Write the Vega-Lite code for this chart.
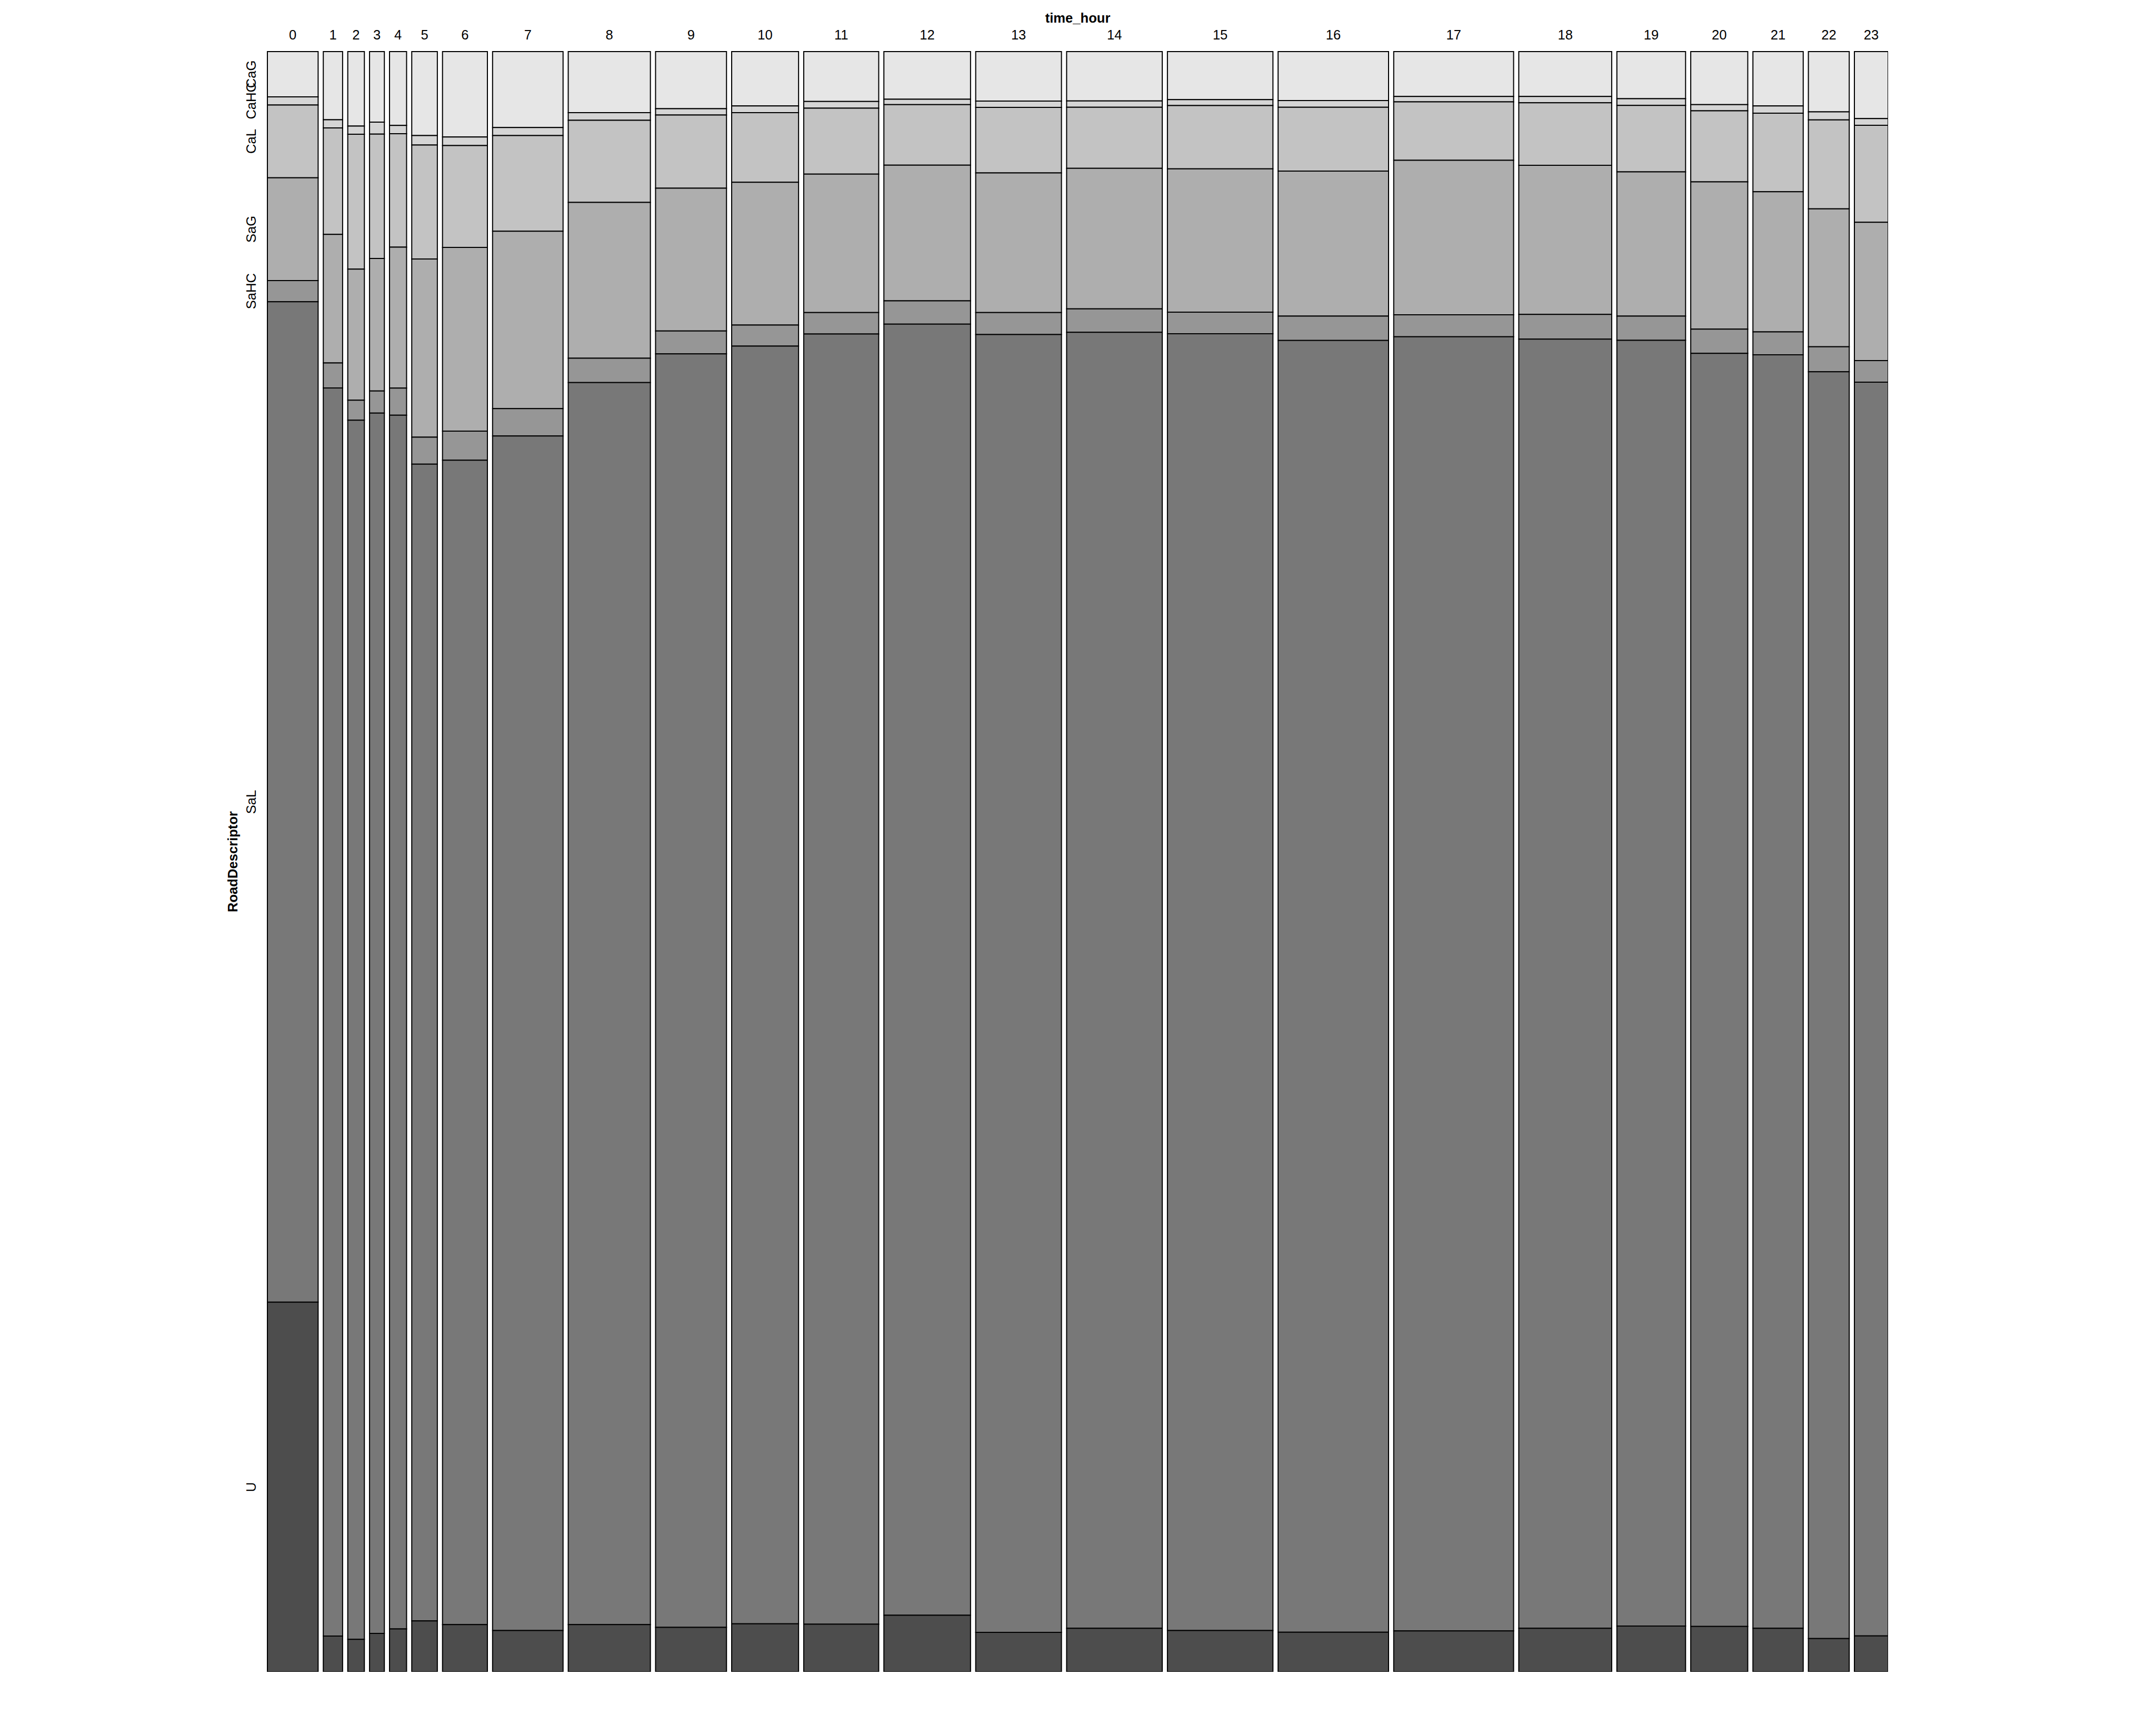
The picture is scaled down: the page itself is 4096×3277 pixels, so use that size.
{
 "$schema": "https://vega.github.io/schema/vega-lite/v6.json",
 "autosize": {"type": "none"},
 "padding": {"left": 508, "top": 98, "right": 0, "bottom": 0},
 "width": 3079,
 "height": 3078,
 "background": "white",
 "config": {"view": {"stroke": null}, "font": "Liberation Sans"},
 "data": {"values": [
  {"hour":0,"road":"CaG","n":323},{"hour":0,"road":"CaHC","n":58},{"hour":0,"road":"CaL","n":519},{"hour":0,"road":"SaG","n":733},{"hour":0,"road":"SaHC","n":151},{"hour":0,"road":"SaL","n":7135},{"hour":0,"road":"U","n":2636},
  {"hour":1,"road":"CaG","n":185},{"hour":1,"road":"CaHC","n":22},{"hour":1,"road":"CaL","n":289},{"hour":1,"road":"SaG","n":349},{"hour":1,"road":"SaHC","n":68},{"hour":1,"road":"SaL","n":3387},{"hour":1,"road":"U","n":97},
  {"hour":2,"road":"CaG","n":174},{"hour":2,"road":"CaHC","n":19},{"hour":2,"road":"CaL","n":315},{"hour":2,"road":"SaG","n":306},{"hour":2,"road":"SaHC","n":47},{"hour":2,"road":"SaL","n":2847},{"hour":2,"road":"U","n":76},
  {"hour":3,"road":"CaG","n":147},{"hour":3,"road":"CaHC","n":25},{"hour":3,"road":"CaL","n":259},{"hour":3,"road":"SaG","n":276},{"hour":3,"road":"SaHC","n":46},{"hour":3,"road":"SaL","n":2542},{"hour":3,"road":"U","n":80},
  {"hour":4,"road":"CaG","n":177},{"hour":4,"road":"CaHC","n":20},{"hour":4,"road":"CaL","n":272},{"hour":4,"road":"SaG","n":338},{"hour":4,"road":"SaHC","n":65},{"hour":4,"road":"SaL","n":2911},{"hour":4,"road":"U","n":103},
  {"hour":5,"road":"CaG","n":302},{"hour":5,"road":"CaHC","n":34},{"hour":5,"road":"CaL","n":410},{"hour":5,"road":"SaG","n":641},{"hour":5,"road":"SaHC","n":97},{"hour":5,"road":"SaL","n":4162},{"hour":5,"road":"U","n":183},
  {"hour":6,"road":"CaG","n":539},{"hour":6,"road":"CaHC","n":54},{"hour":6,"road":"CaL","n":643},{"hour":6,"road":"SaG","n":1159},{"hour":6,"road":"SaHC","n":184},{"hour":6,"road":"SaL","n":7349},{"hour":6,"road":"U","n":298},
  {"hour":7,"road":"CaG","n":752},{"hour":7,"road":"CaHC","n":80},{"hour":7,"road":"CaL","n":948},{"hour":7,"road":"SaG","n":1758},{"hour":7,"road":"SaHC","n":271},{"hour":7,"road":"SaL","n":11837},{"hour":7,"road":"U","n":409},
  {"hour":8,"road":"CaG","n":705},{"hour":8,"road":"CaHC","n":88},{"hour":8,"road":"CaL","n":949},{"hour":8,"road":"SaG","n":1800},{"hour":8,"road":"SaHC","n":280},{"hour":8,"road":"SaL","n":14347},{"hour":8,"road":"U","n":545},
  {"hour":9,"road":"CaG","n":569},{"hour":9,"road":"CaHC","n":63},{"hour":9,"road":"CaL","n":730},{"hour":9,"road":"SaG","n":1424},{"hour":9,"road":"SaHC","n":228},{"hour":9,"road":"SaL","n":12700},{"hour":9,"road":"U","n":443},
  {"hour":10,"road":"CaG","n":511},{"hour":10,"road":"CaHC","n":63},{"hour":10,"road":"CaL","n":655},{"hour":10,"road":"SaG","n":1343},{"hour":10,"road":"SaHC","n":198},{"hour":10,"road":"SaL","n":12015},{"hour":10,"road":"U","n":452},
  {"hour":11,"road":"CaG","n":525},{"hour":11,"road":"CaHC","n":71},{"hour":11,"road":"CaL","n":696},{"hour":11,"road":"SaG","n":1458},{"hour":11,"road":"SaHC","n":227},{"hour":11,"road":"SaL","n":13598},{"hour":11,"road":"U","n":502},
  {"hour":12,"road":"CaG","n":580},{"hour":12,"road":"CaHC","n":66},{"hour":12,"road":"CaL","n":738},{"hour":12,"road":"SaG","n":1652},{"hour":12,"road":"SaHC","n":284},{"hour":12,"road":"SaL","n":15727},{"hour":12,"road":"U","n":689},
  {"hour":13,"road":"CaG","n":596},{"hour":13,"road":"CaHC","n":76},{"hour":13,"road":"CaL","n":790},{"hour":13,"road":"SaG","n":1684},{"hour":13,"road":"SaHC","n":265},{"hour":13,"road":"SaL","n":15645},{"hour":13,"road":"U","n":476},
  {"hour":14,"road":"CaG","n":664},{"hour":14,"road":"CaHC","n":85},{"hour":14,"road":"CaL","n":821},{"hour":14,"road":"SaG","n":1889},{"hour":14,"road":"SaHC","n":314},{"hour":14,"road":"SaL","n":17422},{"hour":14,"road":"U","n":586},
  {"hour":15,"road":"CaG","n":713},{"hour":15,"road":"CaHC","n":87},{"hour":15,"road":"CaL","n":939},{"hour":15,"road":"SaG","n":2125},{"hour":15,"road":"SaHC","n":320},{"hour":15,"road":"SaL","n":19234},{"hour":15,"road":"U","n":613},
  {"hour":16,"road":"CaG","n":760},{"hour":16,"road":"CaHC","n":105},{"hour":16,"road":"CaL","n":990},{"hour":16,"road":"SaG","n":2252},{"hour":16,"road":"SaHC","n":377},{"hour":16,"road":"SaL","n":20058},{"hour":16,"road":"U","n":614},
  {"hour":17,"road":"CaG","n":757},{"hour":17,"road":"CaHC","n":91},{"hour":17,"road":"CaL","n":984},{"hour":17,"road":"SaG","n":2603},{"hour":17,"road":"SaHC","n":371},{"hour":17,"road":"SaL","n":21808},{"hour":17,"road":"U","n":689},
  {"hour":18,"road":"CaG","n":587},{"hour":18,"road":"CaHC","n":82},{"hour":18,"road":"CaL","n":816},{"hour":18,"road":"SaG","n":1948},{"hour":18,"road":"SaHC","n":323},{"hour":18,"road":"SaL","n":16843},{"hour":18,"road":"U","n":569},
  {"hour":19,"road":"CaG","n":455},{"hour":19,"road":"CaHC","n":65},{"hour":19,"road":"CaL","n":642},{"hour":19,"road":"SaG","n":1392},{"hour":19,"road":"SaHC","n":234},{"hour":19,"road":"SaL","n":12416},{"hour":19,"road":"U","n":442},
  {"hour":20,"road":"CaG","n":425},{"hour":20,"road":"CaHC","n":50},{"hour":20,"road":"CaL","n":569},{"hour":20,"road":"SaG","n":1181},{"hour":20,"road":"SaHC","n":194},{"hour":20,"road":"SaL","n":10204},{"hour":20,"road":"U","n":364},
  {"hour":21,"road":"CaG","n":384},{"hour":21,"road":"CaHC","n":51},{"hour":21,"road":"CaL","n":556},{"hour":21,"road":"SaG","n":990},{"hour":21,"road":"SaHC","n":162},{"hour":21,"road":"SaL","n":9002},{"hour":21,"road":"U","n":308},
  {"hour":22,"road":"CaG","n":346},{"hour":22,"road":"CaHC","n":46},{"hour":22,"road":"CaL","n":511},{"hour":22,"road":"SaG","n":792},{"hour":22,"road":"SaHC","n":144},{"hour":22,"road":"SaL","n":7276},{"hour":22,"road":"U","n":191},
  {"hour":23,"road":"CaG","n":317},{"hour":23,"road":"CaHC","n":32},{"hour":23,"road":"CaL","n":459},{"hour":23,"road":"SaG","n":655},{"hour":23,"road":"SaHC","n":102},{"hour":23,"road":"SaL","n":5935},{"hour":23,"road":"U","n":170}
 ]},
 "transform": [
  {"joinaggregate": [{"op": "count", "as": "c"}]},
  {"fold": ["n", "c"], "as": ["key", "value"]},
  {"stack": "value", "groupby": [], "sort": [{"field": "hour", "order": "ascending"}, {"field": "key", "order": "descending"}, {"field": "road", "order": "ascending"}], "as": ["sx1", "sx2"]},
  {"filter": "datum.key == 'n'"},
  {"joinaggregate": [{"op": "min", "field": "sx1", "as": "cx1"}, {"op": "max", "field": "sx2", "as": "cx2"}], "groupby": ["hour"]},
  {"stack": "n", "groupby": ["hour"], "offset": "normalize", "sort": [{"field": "road", "order": "descending"}], "as": ["y1", "y2"]}
 ],
 "layer": [
  {
   "mark": {"type": "rect", "stroke": "black", "strokeWidth": 2},
   "encoding": {
    "x": {"field": "cx1", "type": "quantitative", "scale": {"nice": false, "zero": true}, "axis": null},
    "x2": {"field": "cx2"},
    "y": {"field": "y1", "type": "quantitative", "scale": {"nice": false, "zero": true}, "axis": null},
    "y2": {"field": "y2"},
    "color": {"field": "road", "type": "nominal", "legend": null,
      "scale": {"domain": ["CaG", "CaHC", "CaL", "SaG", "SaHC", "SaL", "U"], "range": ["#E6E6E6", "#D5D5D5", "#C3C3C3", "#AEAEAE", "#969696", "#787878", "#4D4D4D"]}}
   }
  },
  {
   "transform": [
    {"aggregate": [{"op": "min", "field": "cx1", "as": "ha"}, {"op": "max", "field": "cx2", "as": "hb"}, {"op": "max", "field": "y2", "as": "htop"}], "groupby": ["hour"]},
    {"fold": ["ha", "hb"], "as": ["k2", "v2"]},
    {"aggregate": [{"op": "mean", "field": "v2", "as": "xm"}, {"op": "max", "field": "htop", "as": "ytop"}], "groupby": ["hour"]}
   ],
   "mark": {"type": "text", "fontSize": 25.6, "baseline": "alphabetic", "align": "center", "dy": -23, "color": "black", "font": "Liberation Sans"},
   "encoding": {
    "x": {"field": "xm", "type": "quantitative", "axis": null},
    "y": {"field": "ytop", "type": "quantitative", "axis": null},
    "text": {"field": "hour", "type": "nominal"}
   }
  },
  {
   "transform": [
    {"filter": "datum.hour == 0"},
    {"fold": ["y1", "y2"], "as": ["k3", "v3"]},
    {"aggregate": [{"op": "mean", "field": "v3", "as": "ym"}, {"op": "min", "field": "cx1", "as": "xl"}], "groupby": ["road"]}
   ],
   "mark": {"type": "text", "fontSize": 25.6, "angle": 270, "align": "center", "baseline": "alphabetic", "dy": -22, "color": "black", "font": "Liberation Sans"},
   "encoding": {
    "x": {"field": "xl", "type": "quantitative", "axis": null},
    "y": {"field": "ym", "type": "quantitative", "axis": null},
    "text": {"field": "road", "type": "nominal"}
   }
  },
  {
   "transform": [
    {"aggregate": [{"op": "min", "field": "cx1", "as": "ta"}, {"op": "max", "field": "cx2", "as": "tb"}, {"op": "max", "field": "y2", "as": "ttop"}]},
    {"fold": ["ta", "tb"], "as": ["k4", "v4"]},
    {"aggregate": [{"op": "mean", "field": "v4", "as": "xc"}, {"op": "max", "field": "ttop", "as": "ytitle"}]}
   ],
   "mark": {"type": "text", "fontSize": 25.6, "fontWeight": "bold", "baseline": "alphabetic", "align": "center", "dy": -55, "color": "black", "font": "Liberation Sans"},
   "encoding": {
    "x": {"field": "xc", "type": "quantitative", "axis": null},
    "y": {"field": "ytitle", "type": "quantitative", "axis": null},
    "text": {"value": "time_hour"}
   }
  },
  {
   "transform": [
    {"aggregate": [{"op": "min", "field": "y1", "as": "ra"}, {"op": "max", "field": "y2", "as": "rb"}, {"op": "min", "field": "cx1", "as": "rx"}]},
    {"fold": ["ra", "rb"], "as": ["k5", "v5"]},
    {"aggregate": [{"op": "mean", "field": "v5", "as": "yc"}, {"op": "min", "field": "rx", "as": "xr"}]}
   ],
   "mark": {"type": "text", "fontSize": 25.6, "fontWeight": "bold", "angle": 270, "align": "center", "baseline": "alphabetic", "dy": -57, "color": "black", "font": "Liberation Sans"},
   "encoding": {
    "x": {"field": "xr", "type": "quantitative", "axis": null},
    "y": {"field": "yc", "type": "quantitative", "axis": null},
    "text": {"value": "RoadDescriptor"}
   }
  }
 ]
}
